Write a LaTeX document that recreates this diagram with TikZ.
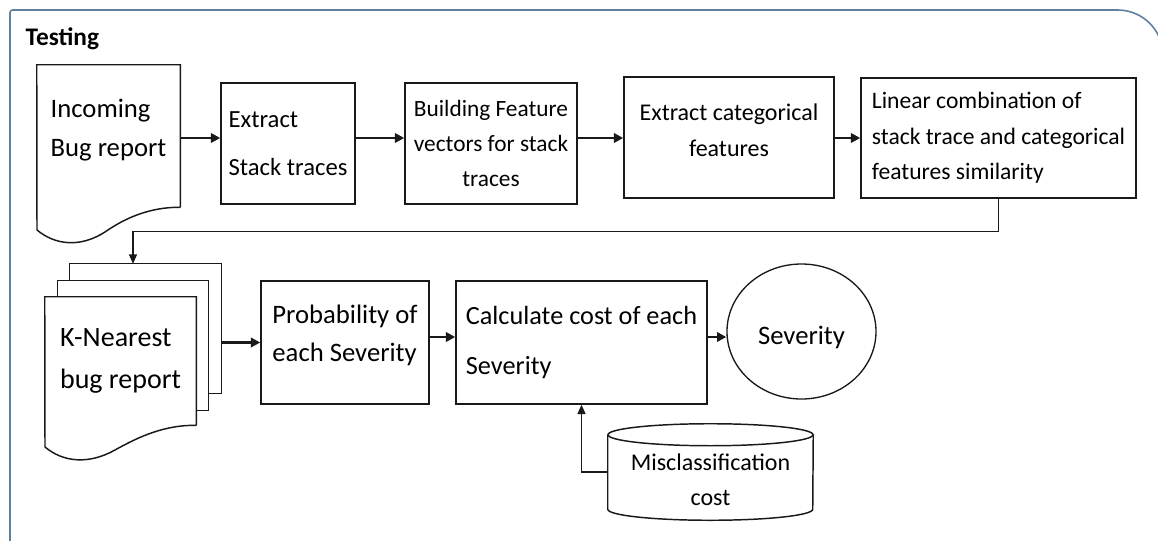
\documentclass[tikz,border=0pt]{standalone}
\usepackage{fontspec}
\setmainfont{Carlito}
\usetikzlibrary{arrows.meta}
\usetikzlibrary{shapes.geometric}
\definecolor{ColFrame}{RGB}{96,128,160}
\definecolor{ColLine}{RGB}{25,25,25}
\tikzstyle{BoxFlow}=[rectangle,draw=ColLine,line width=1.1pt,inner sep=0pt]
\tikzstyle{DocFlow}=[rectangle,inner sep=0pt]
\tikzstyle{ShapeFlow}=[draw=ColLine,line width=1.1pt]
\tikzstyle{EdgeFlow}=[ColLine,line width=2pt,-{Triangle[length=7pt,width=7pt]}]
\tikzstyle{EdgeThin}=[ColLine,line width=1pt,-{Triangle[length=7pt,width=6pt]}]
\tikzstyle{FrameTest}=[ColFrame,line width=1.2pt]

\begin{document}
\begin{tikzpicture}[x=0.75pt,y=-0.75pt]
        \useasboundingbox (0,0) rectangle (1158,540);
        \clip (0,0) rectangle (1158,540);
        \draw[FrameTest,rounded corners=2pt] (10,560) -- (10,10) [rounded corners=34pt] -- (1163,10) -- (1163,560);
        \node[anchor=base west,font=\bfseries\fontsize{19}{22}\selectfont](testing)at(21,45){Testing};
        % first row
        \node[DocFlow,minimum width=107.25pt,minimum height=106.5pt,align=left,text depth=12pt,font=\fontsize{20}{29}\selectfont](incoming)at(108.5,136){Incoming\\Bug report};
        \draw[ShapeFlow](incoming.south east)--(incoming.north east)--(incoming.north west)--(37,230)
            .. controls (55,245) and (80,248) .. (105,232) .. controls (125,218) and (150,207) .. (incoming.south east);
        \node[BoxFlow,minimum width=100.5pt,minimum height=90.75pt,align=left,font=\fontsize{18.5}{36}\selectfont](extract)at(288,143.5){Extract\\Stack traces};
        \node[BoxFlow,minimum width=129pt,minimum height=90.75pt,align=center,font=\fontsize{17.5}{26}\selectfont](building)at(491,143.5){Building Feature\\vectors for stack\\traces};
        \node[BoxFlow,minimum width=157.5pt,minimum height=90.75pt,align=center,text depth=10.5pt,font=\fontsize{18}{27}\selectfont](categ)at(729,137.5){Extract categorical\\features};
        \node[BoxFlow,minimum width=206.25pt,minimum height=90pt,align=left,font=\fontsize{17.7}{26.6}\selectfont](linear)at(998.5,138){Linear combination of\\stack trace and categorical\\features similarity};
        \coordinate(rowA)at(0,138);
        \draw[EdgeFlow](incoming.east|-rowA)--(extract.west|-rowA);
        \draw[EdgeFlow](extract.east|-rowA)--(building.west|-rowA);
        \draw[EdgeFlow](building.east|-rowA)--(categ.west|-rowA);
        \draw[EdgeFlow](categ.east|-rowA)--(linear.west|-rowA);
        % second row
        \node[DocFlow,minimum width=113.25pt,minimum height=96.75pt](knn3)at(145.5,328.5){};
        \node[DocFlow,minimum width=112.5pt,minimum height=96.75pt](knn2)at(133,345.5){};
        \node[DocFlow,minimum width=113.25pt,minimum height=96pt,align=left,font=\fontsize{21}{32}\selectfont](knn)at(120.5,361){K-Nearest\\bug report};
        \draw[ShapeFlow](knn3.west|-knn2.north)--(knn3.north west)--(knn3.north east)--(knn3.south east)--(knn2.east|-knn3.south);
        \draw[ShapeFlow](knn2.west|-knn.north)--(knn2.north west)--(knn2.north east)--(knn2.south east)--(knn.east|-knn2.south);
        \draw[ShapeFlow](knn.south east)--(knn.north east)--(knn.north west)--(45,447)
            .. controls (63,462) and (88,465) .. (115,450) .. controls (140,436) and (165,425) .. (knn.south east);
        \node[BoxFlow,minimum width=126pt,minimum height=92.25pt,align=left,text depth=13.5pt,font=\fontsize{20}{28.5}\selectfont](prob)at(345,342.5){Probability of\\each Severity};
        \node[BoxFlow,minimum width=188.25pt,minimum height=92.25pt,align=left,font=\fontsize{19.7}{37.5}\selectfont](calc)at(581.5,342.5){Calculate cost of each\\Severity};
        \node[ellipse,draw=ColLine,line width=1pt,inner sep=0pt,minimum width=111.75pt,minimum height=101.25pt,text height=24pt,text depth=5pt,font=\fontsize{20}{24}\selectfont](sev)at(801.5,331.5){Severity};
        \node[DocFlow,minimum width=153.75pt,minimum height=72pt,align=center,font=\fontsize{18}{26}\selectfont](misc)at(710.5,480){Misclassification\\cost};
        \draw[ShapeFlow]([yshift=-2.25pt]misc.north west)--([yshift=14.25pt]misc.south west)
            arc[start angle=180,end angle=360,x radius=76.875pt,y radius=8.25pt]--([yshift=-2.25pt]misc.north east);
        \draw[ShapeFlow]([yshift=-2.25pt]misc.north) ellipse [x radius=76.875pt,y radius=8.25pt];
        \coordinate(rowB)at(0,337);
        \draw[EdgeThin](linear.south)--++(0,33)-|(knn2.north|-knn3.north);
        \draw[EdgeFlow](knn3.east|-prob.west)--(prob.west);
        \draw[EdgeFlow](prob.east|-rowB)--(calc.west|-rowB);
        \draw[EdgeFlow](calc.east|-rowB)--(sev.west|-rowB);
        \draw[EdgeThin]([yshift=6pt]misc.west)-|(calc.south);
    \end{tikzpicture}
\end{document}
